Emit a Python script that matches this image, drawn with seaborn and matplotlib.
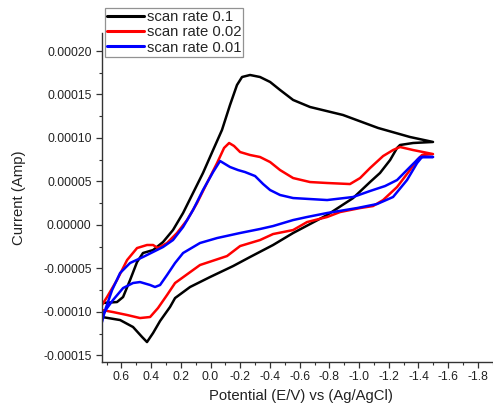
import matplotlib
matplotlib.use("Agg")
import matplotlib.pyplot as plt
import matplotlib.ticker as mticker
from matplotlib.lines import Line2D
import numpy as np
import pandas as pd
import seaborn as sns

# ---------------- data (potential in V, current in units of 1e-5 A) ----------------
black_V = [0.731, 0.609, 0.522, 0.461, 0.428, 0.387, 0.340, 0.273, 0.239, 0.138, 0.003,
           -0.152, -0.266, -0.421, -0.556, -0.670, -0.785, -0.960, -1.074, -1.141, -1.209,
           -1.256, -1.276, -1.364, -1.498,
           -1.343, -1.128, -0.892, -0.670, -0.556, -0.468, -0.401, -0.333, -0.266, -0.212,
           -0.178, -0.131, -0.077, -0.017, 0.051, 0.118, 0.185, 0.253, 0.320, 0.387, 0.455,
           0.495, 0.542, 0.589, 0.630, 0.731]
black_I = [-10.59, -10.94, -11.74, -12.89, -13.47, -12.43, -11.05, -9.44, -8.41, -7.14, -5.99,
           -4.73, -3.69, -2.31, -0.93, 0.10, 1.14, 3.09, 4.93, 5.97, 7.46,
           8.85, 9.19, 9.42, 9.54,
           10.11, 11.15, 12.64, 13.56, 14.37, 15.52, 16.44, 17.01, 17.24, 17.01,
           16.09, 13.79, 10.92, 8.61, 5.97, 3.67, 1.37, -0.59, -1.97, -2.89, -3.23,
           -4.27, -6.34, -8.29, -8.87, -8.98]

red_V = [0.731, 0.657, 0.562, 0.475, 0.407, 0.354, 0.293, 0.239, 0.071, -0.111, -0.199,
         -0.333, -0.421, -0.556, -0.650, -0.785, -0.872, -1.007, -1.094, -1.162, -1.256,
         -1.343, -1.391, -1.424, -1.498,
         -1.364, -1.276, -1.229, -1.162, -1.074, -1.007, -0.939, -0.785, -0.670, -0.556,
         -0.468, -0.401, -0.333, -0.266, -0.199, -0.158, -0.125, -0.091, -0.044, 0.024,
         0.091, 0.158, 0.226, 0.293, 0.354, 0.387, 0.428, 0.495, 0.562, 0.630, 0.697, 0.731]
red_I = [-9.79, -10.02, -10.36, -10.71, -10.59, -9.56, -8.06, -6.68, -4.61, -3.58, -2.43,
         -1.74, -1.05, -0.59, 0.33, 0.91, 1.48, 1.94, 2.17, 2.86, 4.36,
         6.31, 7.46, 8.04, 8.15,
         8.61, 8.96, 8.61, 7.92, 6.54, 5.39, 4.70, 4.82, 4.93, 5.39,
         6.31, 7.23, 7.81, 8.04, 8.38, 9.08, 9.42, 8.85, 7.12, 4.82,
         2.52, 0.56, -0.93, -2.08, -2.66, -2.31, -2.31, -2.66, -4.04, -6.34, -8.29, -9.21]

blue_V = [0.731, 0.697, 0.657, 0.589, 0.522, 0.475, 0.407, 0.374, 0.340, 0.293, 0.239,
          0.185, 0.071, -0.044, -0.199, -0.333, -0.421, -0.556, -0.650, -0.785, -0.987,
          -1.121, -1.229, -1.323, -1.391, -1.424, -1.498,
          -1.411, -1.343, -1.256, -1.175, -1.074, -0.960, -0.785, -0.556, -0.468, -0.401,
          -0.354, -0.300, -0.232, -0.185, -0.131, -0.064, -0.017, 0.051, 0.118, 0.185,
          0.253, 0.320, 0.374, 0.455, 0.542, 0.609, 0.663, 0.710, 0.731]
blue_I = [-10.48, -9.56, -8.64, -7.26, -6.68, -6.57, -6.91, -7.14, -6.91, -5.76, -4.38,
          -3.23, -2.08, -1.51, -0.93, -0.47, -0.13, 0.56, 0.91, 1.37, 1.94,
          2.40, 3.21, 5.16, 7.12, 7.81, 7.81,
          7.81, 6.66, 5.16, 4.47, 3.90, 3.21, 2.86, 3.09, 3.44, 4.01,
          4.70, 5.62, 6.08, 6.31, 6.66, 7.35, 6.08, 4.01, 1.71, -0.24,
          -1.74, -2.54, -3.00, -3.69, -4.38, -5.53, -7.49, -9.79, -11.17]

labels = ["scan rate 0.1", "scan rate 0.02", "scan rate 0.01"]
colors = ["#000000", "#ff0000", "#0000ff"]
current_scale = 1e-5

x_ticks = [0.6, 0.4, 0.2, 0.0, -0.2, -0.4, -0.6, -0.8, -1.0, -1.2, -1.4, -1.6, -1.8]
y_ticks = [-0.00015, -0.00010, -0.00005, 0.0, 0.00005, 0.00010, 0.00015, 0.00020]

frames = []
for lab, V, I in zip(labels, [black_V, red_V, blue_V], [black_I, red_I, blue_I]):
    frames.append(pd.DataFrame({"V": V, "I": np.array(I) * current_scale, "rate": lab}))
df = pd.concat(frames, ignore_index=True)

# ---------------- style ----------------
sns.set_theme(style="white")
plt.rcParams["font.family"] = ["Liberation Sans", "DejaVu Sans"]
plt.rcParams["axes.unicode_minus"] = False

W, H = 493, 404
fig = plt.figure(figsize=(W / 100, H / 100), dpi=100)
ax = fig.add_axes([102 / W, (H - 361.7) / H, 391 / W, (361.7 - 33) / H])

sns.lineplot(data=df, x="V", y="I", hue="rate", hue_order=labels,
             palette=colors, sort=False, estimator=None, units="rate",
             linewidth=1.8, ax=ax, legend=False)
for ln in ax.lines:
    ln.set_solid_joinstyle("round")
    ln.set_solid_capstyle("round")

ax.set_xlim(0.731, -1.902)
ax.set_ylim(-1.573e-4, 2.207e-4)

ax.set_xticks(x_ticks)
ax.set_yticks(y_ticks)
ax.xaxis.set_minor_locator(mticker.MultipleLocator(0.1))
ax.yaxis.set_minor_locator(mticker.MultipleLocator(0.000025))
ax.xaxis.set_major_formatter(mticker.FuncFormatter(lambda v, p: f"{v:.1f}" if abs(v) > 1e-9 else "0.0"))
ax.yaxis.set_major_formatter(mticker.FuncFormatter(lambda v, p: f"{v:.5f}" if abs(v) > 1e-12 else "0.00000"))

ax.tick_params(axis="both", which="major", direction="out", length=4.5, width=0.9,
               color="#333333", labelsize=8.7, labelcolor="#222222",
               bottom=True, left=True)
ax.tick_params(axis="both", which="minor", direction="out", length=2.5, width=0.8,
               color="#333333", bottom=True, left=True)
ax.tick_params(axis="x", which="major", pad=2.5)
ax.tick_params(axis="y", which="major", pad=3)

for s in ["top", "right"]:
    ax.spines[s].set_visible(False)
for s in ["left", "bottom"]:
    ax.spines[s].set_color("#333333")
    ax.spines[s].set_linewidth(1.0)

ax.set_xlabel("Potential (E/V) vs (Ag/AgCl)", fontsize=10.7, color="#222222")
ax.set_ylabel("Current (Amp)", fontsize=10.7, color="#222222")
ax.xaxis.set_label_coords(0.51, -0.084)
ax.xaxis.label.set_va("top")
ax.yaxis.set_label_coords(-0.194, 0.5)

handles = [Line2D([0], [0], color=c, lw=2.2) for c in colors]
leg = fig.legend(handles, labels, loc="upper left",
                 bbox_to_anchor=(105 / W, 1 - 8 / H), borderaxespad=0,
                 fontsize=10.7, frameon=True, fancybox=False,
                 handlelength=2.5, handletextpad=0.15, labelspacing=0.08,
                 borderpad=0.15)
leg.get_frame().set_edgecolor("#777777")
leg.get_frame().set_linewidth(0.9)

fig.savefig("out.png", dpi=100)
